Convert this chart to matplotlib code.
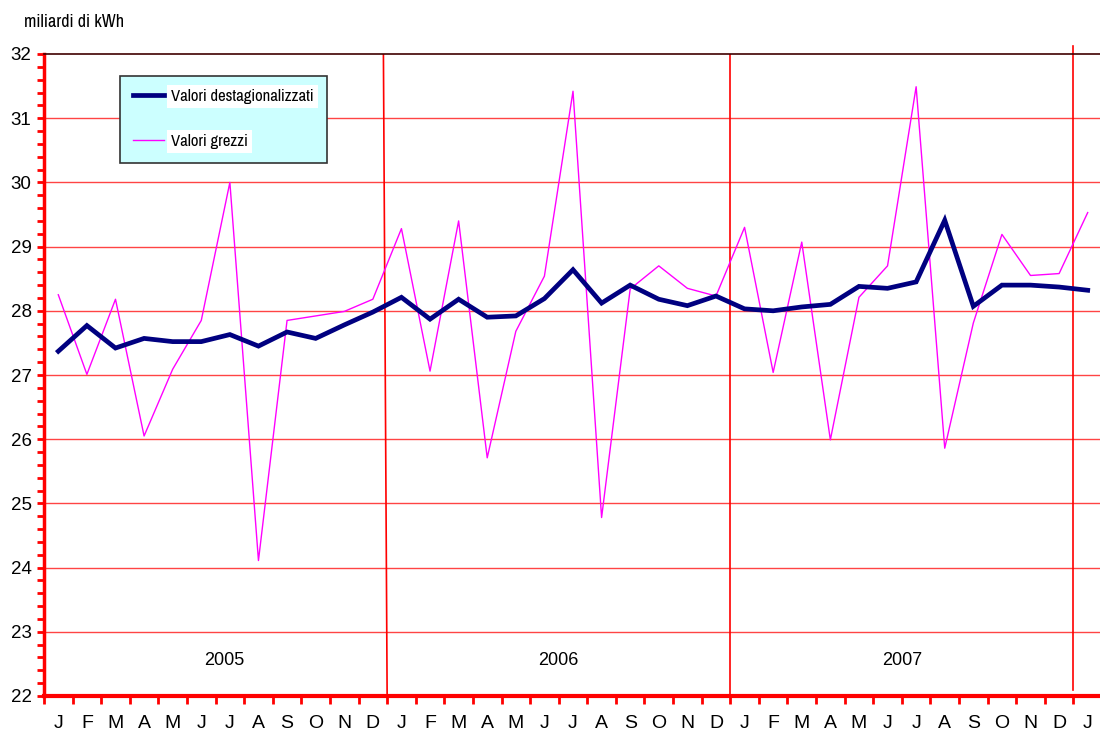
import matplotlib

matplotlib.use("Agg")
import matplotlib.pyplot as plt
from matplotlib import font_manager
from matplotlib.lines import Line2D
from matplotlib.ticker import MultipleLocator

plt.rcParams["font.family"] = ["Liberation Sans", "DejaVu Sans"]

# the original uses a narrow Arial for the legend and the unit label
narrow = [f.name for f in font_manager.fontManager.ttflist
          if "Narrow" in f.name or "Condensed" in f.name]
NARROW = narrow[0] if narrow else None

MONTHS = ["J", "F", "M", "A", "M", "J", "J", "A", "S", "O", "N", "D"] * 3 + ["J"]
YEARS = ["2005", "2006", "2007"]
YEAR_LABEL_X = [6.3, 18.0, 30.0]

# consumi elettrici mensili, gen 2005 - gen 2008 (miliardi di kWh)
destag = [27.37, 27.77, 27.42, 27.57, 27.52, 27.52, 27.63, 27.45, 27.67, 27.57, 27.78, 27.98,
          28.21, 27.87, 28.18, 27.90, 27.92, 28.19, 28.64, 28.12, 28.40, 28.18, 28.08, 28.23,
          28.03, 28.00, 28.06, 28.10, 28.38, 28.35, 28.45, 29.41, 28.07, 28.40, 28.40, 28.37,
          28.32]
grezzi = [28.25, 27.01, 28.18, 26.05, 27.09, 27.85, 30.00, 24.11, 27.85, 27.92, 27.99, 28.18,
          29.28, 27.06, 29.40, 25.71, 27.68, 28.54, 31.42, 24.78, 28.34, 28.70, 28.35, 28.23,
          29.30, 27.04, 29.07, 25.99, 28.21, 28.70, 31.49, 25.86, 27.81, 29.19, 28.55, 28.58,
          29.53]

RED = "#ff0000"
GRID = "#ff4444"
NAVY = "#000080"
MAGENTA = "#ff00ff"

fig = plt.figure(figsize=(11, 7.33), dpi=100)
ax = fig.add_axes([44 / 1100, 37 / 733, 1058 / 1100, 642 / 733])

x = [i + 0.5 for i in range(len(destag))]
ax.plot(x, grezzi, color=MAGENTA, lw=1.0, zorder=3)
ax.plot(x, destag, color=NAVY, lw=3.4, zorder=4, solid_joinstyle="miter")

ax.set_xlim(0, 37)
ax.set_ylim(22, 32)

# horizontal grid
for v in range(23, 32):
    ax.axhline(v, color=GRID, lw=1.0, zorder=1)

# year separators (the first one is slightly slanted in the original)
ax.plot([11.87, 12.0], [32, 22], color=RED, lw=1.2, zorder=2)
ax.plot([24, 24], [32, 22], color=RED, lw=1.2, zorder=2)
ax.plot([36, 36], [22.09, 32.13], color=RED, lw=1.2, zorder=2, clip_on=False)

for lab, xp in zip(YEARS, YEAR_LABEL_X):
    ax.text(xp, 22.56, lab, ha="center", va="center", fontsize=13, color="black")

# spines
ax.spines["right"].set_visible(False)
ax.spines["top"].set_color("#400000")
ax.spines["top"].set_linewidth(1.2)
ax.spines["left"].set_color(RED)
ax.spines["left"].set_linewidth(2.5)
ax.spines["bottom"].set_color(RED)
ax.spines["bottom"].set_linewidth(3)

# y ticks
ax.yaxis.set_major_locator(MultipleLocator(1))
ax.yaxis.set_minor_locator(MultipleLocator(0.2))
ax.tick_params(axis="y", which="both", direction="out", color=RED, width=2, length=5,
               labelsize=13.5, pad=4)

# x ticks: boundaries as major ticks, month initials centred on minor positions
ax.set_xticks(range(38))
ax.set_xticklabels([])
ax.set_xticks(x, minor=True)
ax.set_xticklabels(MONTHS, minor=True)
ax.tick_params(axis="x", which="major", direction="out", color=RED, width=2, length=6)
ax.tick_params(axis="x", which="minor", length=0, labelsize=14, pad=14)

if NARROW:
    title_kw = dict(family=NARROW, fontsize=13)
    leg_font = {"family": NARROW, "size": 12}
else:
    title_kw = dict(fontsize=11)
    leg_font = {"size": 10}

fig.text(24 / 1100, 1 - 22 / 733, "miliardi di kWh", ha="left", va="center", **title_kw)

handles = [Line2D([], [], color=NAVY, lw=3.4), Line2D([], [], color=MAGENTA, lw=1.0)]
leg = ax.legend(handles, ["Valori destagionalizzati", "Valori grezzi"],
                loc="upper left", bbox_to_anchor=(120 / 1100, 1 - 76 / 733),
                bbox_transform=fig.transFigure, prop=leg_font, frameon=True,
                fancybox=False, framealpha=1, facecolor="#ccffff", edgecolor="#333333",
                handlelength=1.83, handletextpad=0.42, labelspacing=1.8, borderpad=0.8,
                borderaxespad=0)
leg.get_frame().set_linewidth(1.2)
for t in leg.get_texts():
    t.set_bbox(dict(facecolor="white", edgecolor="none", pad=3))

fig.savefig("out.png", dpi=100)
